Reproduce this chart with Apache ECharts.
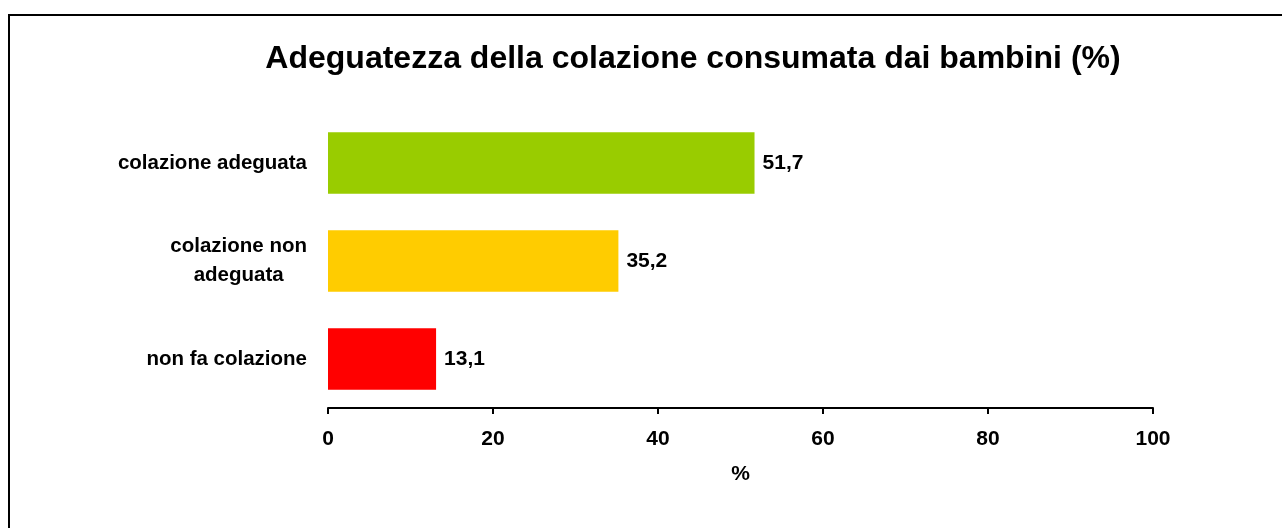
<!DOCTYPE html>
<html>
<head>
<meta charset="utf-8">
<script src="https://cdn.jsdelivr.net/npm/echarts@6/dist/echarts.min.js"></script>
<style>
	html, body { margin: 0; padding: 0; background: #fff; }
	#chart { width: 1282px; height: 528px; }
</style>
</head>
<body>
<div id="chart"></div>
<script>
const titleText = 'Adeguatezza della colazione consumata dai bambini (%)';
const categories = ['non fa colazione', 'colazione non\nadeguata', 'colazione adeguata'];
const values = [13.1, 35.2, 51.7];
const barColors = ['#ff0000', '#ffcc00', '#99cc00'];
const xTicks = [0, 20, 40, 60, 80, 100];

const font = '"Liberation Sans", Arial, sans-serif';

function renderChart(chartId) {
	const chart = echarts.init(document.getElementById(chartId));

	chart.setOption({
		animation: false,
		title: {
			text: titleText,
			left: 688,
			top: 38,
			textAlign: 'center',
			textStyle: { fontFamily: font, fontSize: 32, fontWeight: 'bold', color: '#000' }
		},
		// frame round the whole picture, open at right and bottom like the original
		graphic: [{
			type: 'rect',
			shape: { x: 9, y: 15, width: 1300, height: 540 },
			style: { fill: 'none', stroke: '#000', lineWidth: 2 }
		}],
		grid: { left: 328, right: 129, top: 114, bottom: 120 },
		xAxis: {
			type: 'value',
			min: xTicks[0],
			max: xTicks[xTicks.length - 1],
			interval: 20,
			name: '%',
			nameLocation: 'middle',
			nameGap: 56,
			nameTextStyle: { fontFamily: font, fontSize: 21, fontWeight: 'bold', color: '#000' },
			axisLine: { show: true, lineStyle: { color: '#000', width: 2 } },
			axisTick: { show: true, length: 6, lineStyle: { color: '#000', width: 2 } },
			axisLabel: { margin: 21, fontFamily: font, fontSize: 21, fontWeight: 'bold', color: '#000' },
			splitLine: { show: false }
		},
		yAxis: {
			type: 'category',
			data: categories,
			axisLine: { show: false },
			axisTick: { show: false },
			axisLabel: {
				margin: 21,
				align: 'right',
				// each line centred inside the right-aligned block
				formatter: (v) => v.split('\n').map((s) => '{c|' + s + '}').join('\n'),
				rich: {
					c: {
						align: 'center',
						fontFamily: font,
						fontSize: 20.5,
						fontWeight: 'bold',
						color: '#000',
						lineHeight: 29
					}
				}
			}
		},
		series: [{
			type: 'bar',
			barWidth: '63%',
			data: values.map((v, i) => ({ value: v, itemStyle: { color: barColors[i] } })),
			label: {
				show: true,
				position: 'right',
				distance: 8,
				fontFamily: font,
				fontSize: 21,
				fontWeight: 'bold',
				color: '#000',
				formatter: (p) => p.value.toFixed(1).replace('.', ',')
			}
		}]
	});
}

renderChart('chart');
</script>
</body>
</html>
